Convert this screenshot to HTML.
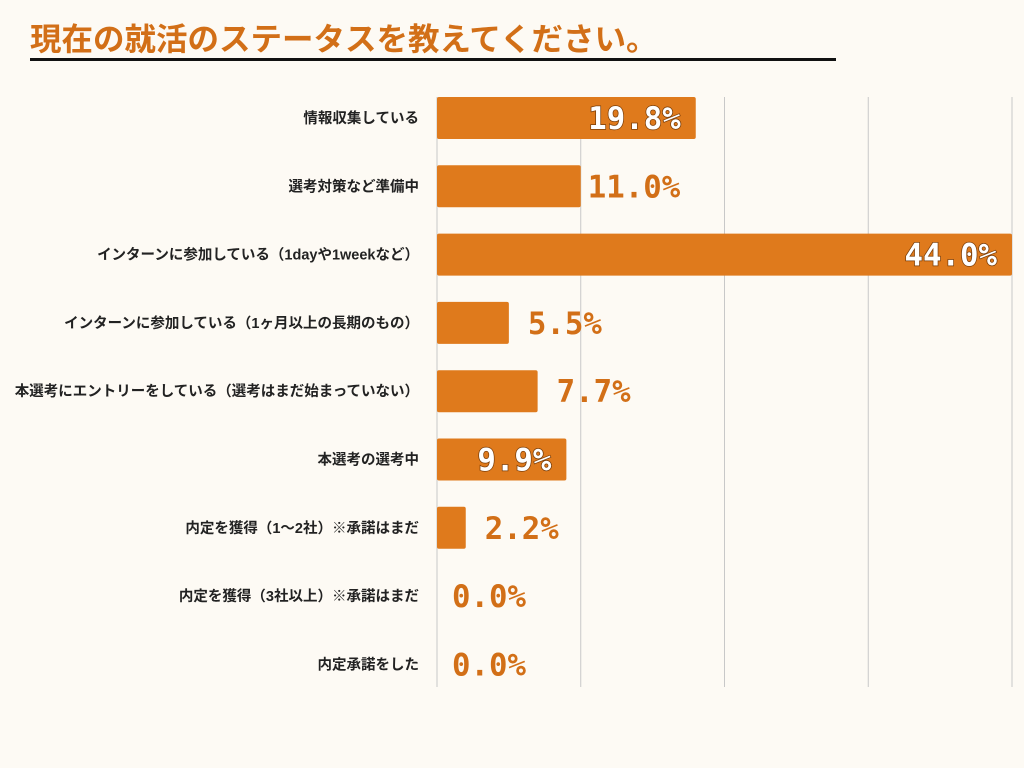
<!DOCTYPE html>
<html><head><meta charset="utf-8">
<style>
html,body{margin:0;padding:0;background:#fdfaf4;}
body{width:1024px;height:768px;position:relative;overflow:hidden;font-family:"Liberation Sans","Noto Sans CJK JP",sans-serif;}
#title{position:absolute;left:30px;top:19px;font-size:31.5px;font-weight:bold;color:#d26f17;white-space:nowrap;line-height:40px;}
#rule{position:absolute;left:30px;top:58px;width:806px;height:3px;background:#111;}
svg{position:absolute;left:0;top:0;}
</style></head>
<body>
<div id="title">現在の就活のステータスを教えてください。</div>
<div id="rule"></div>
<svg id="chart" width="1024" height="768"></svg>
<script>
const categories = ["情報収集している","選考対策など準備中","インターンに参加している（1dayや1weekなど）","インターンに参加している（1ヶ月以上の長期のもの）","本選考にエントリーをしている（選考はまだ始まっていない）","本選考の選考中","内定を獲得（1〜2社）※承諾はまだ","内定を獲得（3社以上）※承諾はまだ","内定承諾をした"];
const values = [19.8,11.0,44.0,5.5,7.7,9.9,2.2,0.0,0.0];
const inside = [true,false,true,false,false,true,false,false,false];
const ticks = [0,11,22,33,44];
const NS="http://www.w3.org/2000/svg";
const svg=document.getElementById('chart');
const x0=437,x1=1012,xmax=44;
const x=v=>x0+(v/xmax)*(x1-x0);
const rowTop=97,rowStep=68.3,barH=42;
const y=i=>rowTop+i*rowStep;
function mk(t,a){const e=document.createElementNS(NS,t);for(const k in a)e.setAttribute(k,a[k]);svg.appendChild(e);return e;}
ticks.forEach((t,i)=>{
  const g=mk('line',{x1:x(t),x2:x(t),y1:97,y2:687,stroke:'#c8c8c8','stroke-width':1});
  
  
});
categories.forEach((c,i)=>{
  const yy=y(i);
  const lab=mk('text',{x:419,y:yy+barH/2+5,'text-anchor':'end','font-size':14.5,'font-weight':'bold',fill:'#222'});
  lab.textContent=c;
  
  
  const w=x(values[i])-x0;
  if(w>0){
    const r=mk('rect',{x:x0,y:yy,width:w,height:barH,rx:2,fill:'#df7a1c'});
    
    
  }
  const txt=values[i].toFixed(1)+'%';
  const vl=mk('text',{y:yy+barH/2+11,'font-family':'"DejaVu Sans Mono","Liberation Mono",monospace','font-size':31,'font-weight':'bold',textLength:txt.length*18.5,lengthAdjust:'spacingAndGlyphs'});
  if(inside[i]){vl.setAttribute('x',x(values[i])-15);vl.setAttribute('text-anchor','end');vl.setAttribute('fill','#fff');vl.setAttribute('style','paint-order:stroke;stroke:#7a3d08;stroke-width:1.5px;');}
  else{vl.setAttribute('x',x(values[i])+(txt.length>4?7:(values[i]>0?19:15)));vl.setAttribute('fill','#d26f17');}
  vl.textContent=txt;
  
  
});
</script>
</body></html>
